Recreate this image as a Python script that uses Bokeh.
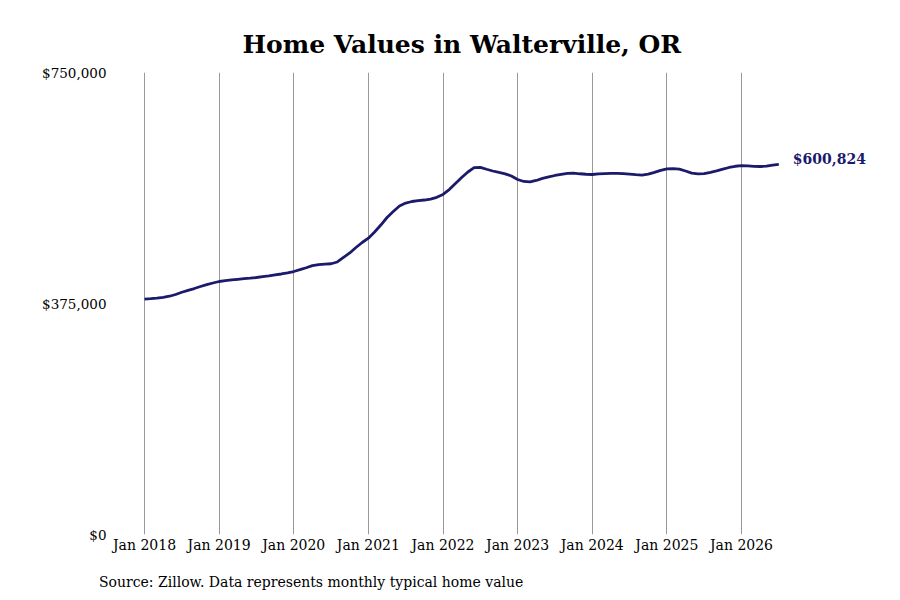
from bokeh.plotting import figure
from bokeh.models import Range1d, FixedTicker, NumeralTickFormatter, Div
from bokeh.layouts import column
from bokeh.core.properties import value
from bokeh.embed import file_html
from bokeh.resources import INLINE

start_year = 2018
home_values = [
    382000, 382800, 383700, 385100, 386800, 389600, 393200, 396400, 399300, 402600, 405500, 408300,
    410700, 412000, 413200, 414300, 415300, 416200, 417200, 418500, 419700, 421300, 422900, 424800,
    426900, 429900, 433100, 436400, 438000, 439000, 439500, 442400, 449700, 457000, 465900, 474000,
    481000, 491100, 502400, 514600, 524300, 533300, 538100, 540600, 541900, 543000, 544600, 547400,
    552000, 560000, 569800, 579500, 588500, 595500, 596100, 592900, 590100, 587700, 585500, 582000,
    576300, 573100, 572400, 574700, 578000, 580400, 582800, 584800, 586200, 586500, 585600, 584800,
    584400, 585400, 586000, 586400, 586400, 585900, 585100, 584100, 583500, 585100, 588000, 591200,
    593400, 593800, 593200, 590100, 586700, 585400, 586000, 588000, 590300, 593200, 595800, 597800,
    598800, 598400, 597600, 597400, 597900, 599700, 600824,
]
tick_years = [2018, 2019, 2020, 2021, 2022, 2023, 2024, 2025, 2026]
tick_labels = ["Jan 2018", "Jan 2019", "Jan 2020", "Jan 2021", "Jan 2022",
               "Jan 2023", "Jan 2024", "Jan 2025", "Jan 2026"]
y_ticks = [0, 375000, 750000]
last_label = "$600,824"
source_note = "Source: Zillow. Data represents monthly typical home value"

x = [start_year + i / 12 for i in range(len(home_values))]

NAVY = "#1b1a6b"
SERIF = "DejaVu Serif"

p = figure(width=884, height=566, output_backend="svg", toolbar_location=None,
           x_range=Range1d(2017.571, 2027.809), y_range=Range1d(0, 750000),
           min_border_left=112, min_border_right=8, min_border_top=72, min_border_bottom=32)
p.outline_line_color = None
p.background_fill_color = "white"

p.title.text = "Home Values in Walterville, OR"
p.title.align = "left"
p.title.offset = 130
p.title.text_font = SERIF
p.title.text_font_size = "25px"
p.title.text_font_style = "bold"
p.title.text_color = "black"
p.title.standoff = 28

p.line(x, home_values, line_color=NAVY, line_width=2.8)
p.text([x[-1]], [home_values[-1]], text=[last_label], x_offset=14, y_offset=-5,
       text_align="left", text_baseline="middle", text_font=value(SERIF),
       text_font_size="14px", text_font_style="bold", text_color=NAVY)

p.xaxis.ticker = FixedTicker(ticks=tick_years)
p.xaxis.major_label_overrides = {yr: lab for yr, lab in zip(tick_years, tick_labels)}
p.xaxis.axis_line_color = None
p.xaxis.major_tick_line_color = None
p.xaxis.major_tick_out = 0
p.xaxis.major_tick_in = 0
p.xaxis.minor_tick_line_color = None
p.xaxis.major_label_text_font = SERIF
p.xaxis.major_label_text_font_size = "14px"
p.xaxis.major_label_text_color = "black"
p.xaxis.major_label_standoff = 2

p.yaxis.ticker = FixedTicker(ticks=y_ticks)
p.yaxis.formatter = NumeralTickFormatter(format="$0,0")
p.yaxis.axis_line_color = None
p.yaxis.major_tick_line_color = None
p.yaxis.major_tick_out = 0
p.yaxis.major_tick_in = 0
p.yaxis.minor_tick_line_color = None
p.yaxis.major_label_text_font = SERIF
p.yaxis.major_label_text_font_size = "13.5px"
p.yaxis.major_label_text_color = "black"
p.yaxis.major_label_standoff = 6

p.xgrid.ticker = FixedTicker(ticks=tick_years)
p.xgrid.grid_line_color = "#999999"
p.xgrid.grid_line_width = 1
p.ygrid.grid_line_color = None

note = Div(text=source_note, width=780, height=22, margin=(8, 0, 0, 99),
           styles={"font-family": SERIF, "font-size": "14px", "color": "black",
                   "line-height": "17px", "white-space": "nowrap"})

layout = column(p, note, spacing=0)

open("out.html", "w").write(file_html(layout, INLINE))
